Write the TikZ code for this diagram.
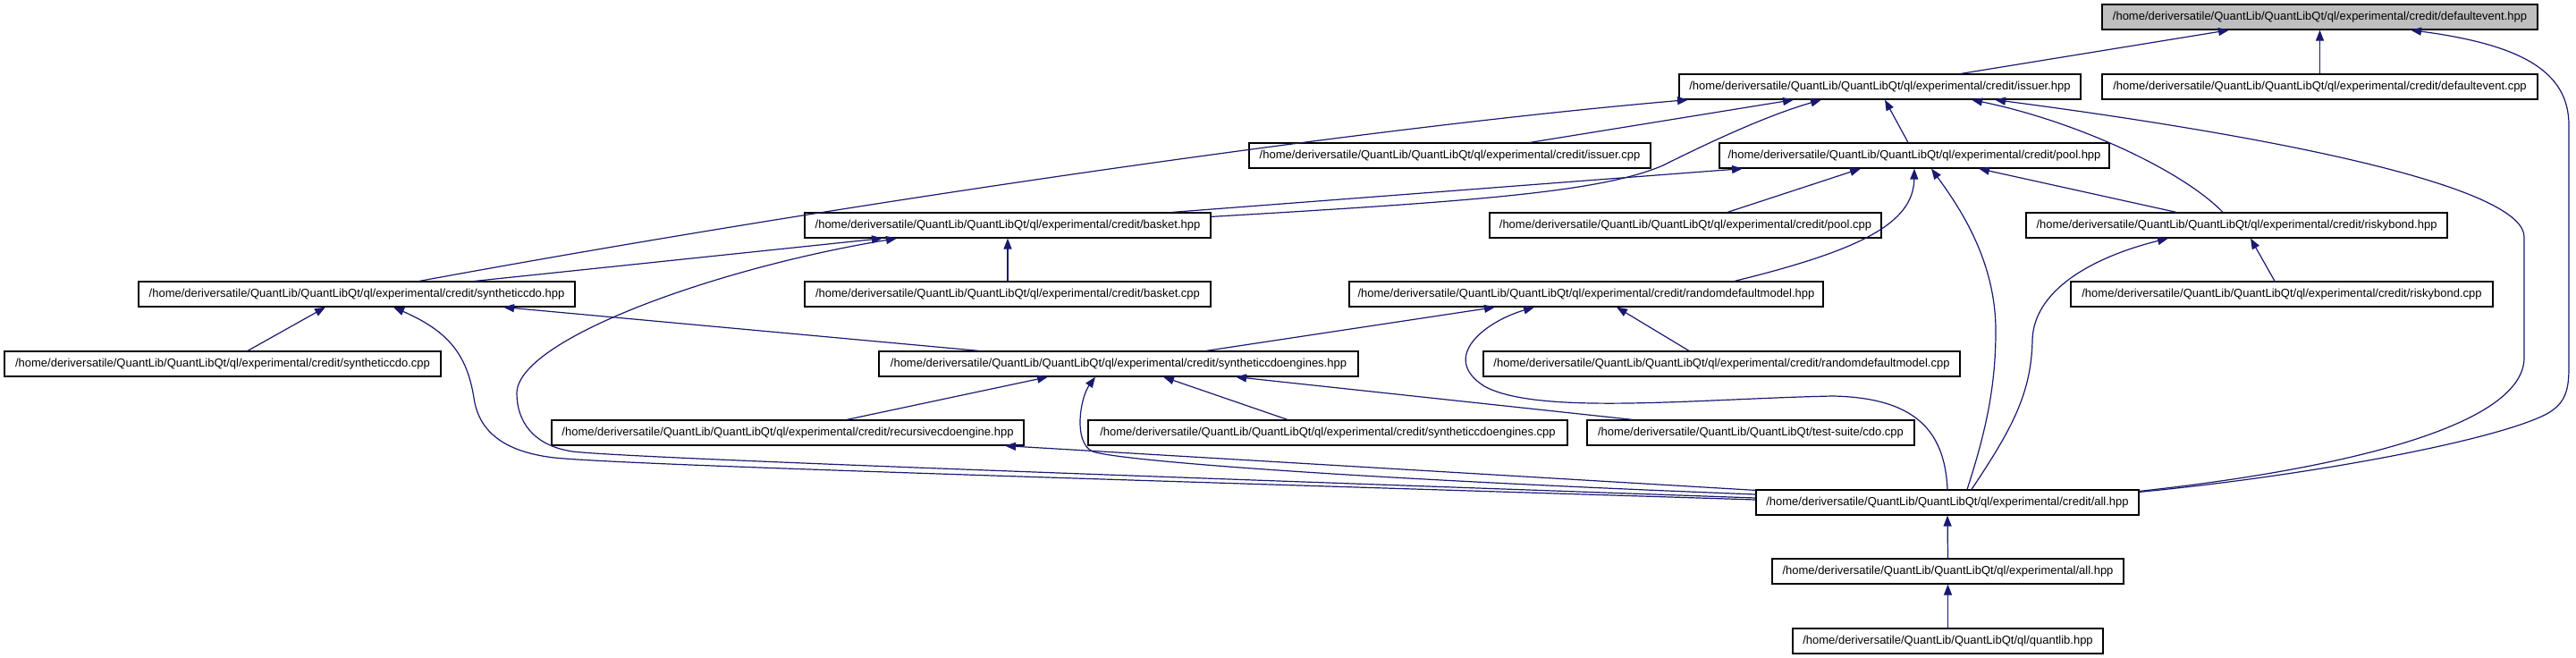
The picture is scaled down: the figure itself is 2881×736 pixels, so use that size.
\documentclass[tikz,border=0pt]{standalone}
\usepackage{fontspec}
\setmainfont{Liberation Sans}
\usetikzlibrary{arrows.meta}
\definecolor{edgeblue}{HTML}{191970}
\definecolor{nodegray}{HTML}{BFBFBF}
\begin{document}
\begin{tikzpicture}[x=1pt,y=-1pt,
  box/.style={draw=black, line width=1.2pt, minimum height=28pt, inner sep=0pt, font=\fontsize{13}{15}\selectfont, fill=white},
  edge/.style={draw=edgeblue, line width=1.2pt, -{Triangle[length=12pt,width=9pt]}}]
\useasboundingbox (0,0) rectangle (2881,736);
% nodes
\node[box, fill=nodegray, minimum width=487pt] (defevhpp) at (2594.5,19) {/home/deriversatile/QuantLib/QuantLibQt/ql/experimental/credit/defaultevent.hpp};
\node[box, minimum width=449pt] (issuerhpp) at (2102.5,97) {/home/deriversatile/QuantLib/QuantLibQt/ql/experimental/credit/issuer.hpp};
\node[box, minimum width=487pt] (defevcpp) at (2594.5,97) {/home/deriversatile/QuantLib/QuantLibQt/ql/experimental/credit/defaultevent.cpp};
\node[box, minimum width=449pt] (issuercpp) at (1621.5,174) {/home/deriversatile/QuantLib/QuantLibQt/ql/experimental/credit/issuer.cpp};
\node[box, minimum width=436pt] (poolhpp) at (2141,174) {/home/deriversatile/QuantLib/QuantLibQt/ql/experimental/credit/pool.hpp};
\node[box, minimum width=454pt] (baskethpp) at (1127,252) {/home/deriversatile/QuantLib/QuantLibQt/ql/experimental/credit/basket.hpp};
\node[box, minimum width=438pt] (poolcpp) at (1885,252) {/home/deriversatile/QuantLib/QuantLibQt/ql/experimental/credit/pool.cpp};
\node[box, minimum width=471pt] (riskyhpp) at (2501.5,252) {/home/deriversatile/QuantLib/QuantLibQt/ql/experimental/credit/riskybond.hpp};
\node[box, minimum width=488pt] (synhpp) at (399,329) {/home/deriversatile/QuantLib/QuantLibQt/ql/experimental/credit/syntheticcdo.hpp};
\node[box, minimum width=454pt] (basketcpp) at (1127,329) {/home/deriversatile/QuantLib/QuantLibQt/ql/experimental/credit/basket.cpp};
\node[box, minimum width=530pt] (rdmhpp) at (1774,329) {/home/deriversatile/QuantLib/QuantLibQt/ql/experimental/credit/randomdefaultmodel.hpp};
\node[box, minimum width=472pt] (riskycpp) at (2552,329) {/home/deriversatile/QuantLib/QuantLibQt/ql/experimental/credit/riskybond.cpp};
\node[box, minimum width=488pt] (syncpp) at (249,407) {/home/deriversatile/QuantLib/QuantLibQt/ql/experimental/credit/syntheticcdo.cpp};
\node[box, minimum width=536pt] (synenghpp) at (1251,407) {/home/deriversatile/QuantLib/QuantLibQt/ql/experimental/credit/syntheticcdoengines.hpp};
\node[box, minimum width=533pt] (rdmcpp) at (1925.5,407) {/home/deriversatile/QuantLib/QuantLibQt/ql/experimental/credit/randomdefaultmodel.cpp};
\node[box, minimum width=528pt] (recurhpp) at (881,484) {/home/deriversatile/QuantLib/QuantLibQt/ql/experimental/credit/recursivecdoengine.hpp};
\node[box, minimum width=536pt] (synengcpp) at (1485,484) {/home/deriversatile/QuantLib/QuantLibQt/ql/experimental/credit/syntheticcdoengines.cpp};
\node[box, minimum width=366pt] (cdocpp) at (1958,484) {/home/deriversatile/QuantLib/QuantLibQt/test-suite/cdo.cpp};
\node[box, minimum width=428pt] (credall) at (2178,562) {/home/deriversatile/QuantLib/QuantLibQt/ql/experimental/credit/all.hpp};
\node[box, minimum width=393pt] (expall) at (2178.5,639) {/home/deriversatile/QuantLib/QuantLibQt/ql/experimental/all.hpp};
\node[box, minimum width=347pt] (quantlib) at (2178.5,717) {/home/deriversatile/QuantLib/QuantLibQt/ql/quantlib.hpp};
% edges
\draw[edge] ([xshift=90.5pt]issuerhpp.north) -- ([xshift=-101.5pt]defevhpp.south);
\draw[edge] (defevcpp.north) -- (defevhpp.south);
\draw[edge] ([yshift=-3pt]credall.north east) .. controls (2600,530) and (2800,490) .. (2850,462) .. controls (2870,450) and (2873,435) .. (2873,410) -- (2873,140) .. controls (2873,80) and (2820,50) .. ([xshift=101.5pt]defevhpp.south);
\draw[edge] ([xshift=89.5pt]issuercpp.north) -- ([xshift=-96.5pt]issuerhpp.south);
\draw[edge] ([xshift=70pt]synhpp.north) .. controls (900,235) and (1500,145) .. ([xshift=-214.5pt]issuerhpp.south);
\draw[edge] ([yshift=-5pt]baskethpp.north east) .. controls (1650,225) and (1790,215) .. (1860,185) .. controls (1920,155) and (1980,128) .. ([xshift=-65.5pt]issuerhpp.south);
\draw[edge] ([xshift=-7pt]poolhpp.north) -- ([xshift=5.5pt]issuerhpp.south);
\draw[edge] ([xshift=-15.5pt]riskyhpp.north) .. controls (2440,190) and (2320,135) .. ([xshift=102.5pt]issuerhpp.south);
\draw[edge] ([yshift=-2pt]credall.north east) .. controls (2600,527) and (2823,480) .. (2823,400) -- (2823,265) .. controls (2823,215) and (2600,160) .. ([xshift=128.5pt]issuerhpp.south);
\draw[edge] ([xshift=184pt]baskethpp.north) -- ([xshift=-192pt]poolhpp.south);
\draw[edge] ([xshift=47pt]poolcpp.north) -- ([xshift=-60pt]poolhpp.south);
\draw[edge] ([xshift=166pt]rdmhpp.north) .. controls (2080,280) and (2140,250) .. (poolhpp.south);
\draw[edge] ([xshift=22pt]credall.north) .. controls (2222,480) and (2232,430) .. (2232,370) .. controls (2232,290) and (2190,230) .. ([xshift=19pt]poolhpp.south);
\draw[edge] ([xshift=-67.5pt]riskyhpp.north) -- ([xshift=72pt]poolhpp.south);
\draw[edge] ([xshift=132pt]synhpp.north) -- ([xshift=-140pt]baskethpp.south);
\draw[edge] (basketcpp.north) -- (baskethpp.south);
\draw[edge] ([yshift=5pt]credall.west) .. controls (1200,530) and (700,512) .. (640,505) .. controls (595,498) and (578,470) .. (578,440) .. controls (578,380) and (800,300) .. ([xshift=-124pt]baskethpp.south);
\draw[edge] ([xshift=-8pt]riskycpp.north) -- ([xshift=15.5pt]riskyhpp.south);
\draw[edge] ([xshift=27pt]credall.north) .. controls (2250,480) and (2272,440) .. (2273,380) .. controls (2275,320) and (2350,285) .. ([xshift=-76.5pt]riskyhpp.south);
\draw[edge] ([xshift=28pt]syncpp.north) -- ([xshift=-35pt]synhpp.south);
\draw[edge] ([xshift=-156pt]synenghpp.north) -- ([xshift=164pt]synhpp.south);
\draw[edge] ([yshift=3pt]credall.west) .. controls (1200,535) and (700,520) .. (620,512) .. controls (560,505) and (535,480) .. (530,445) .. controls (522,395) and (500,370) .. ([xshift=41pt]synhpp.south);
\draw[edge] ([xshift=98pt]synenghpp.north) -- ([xshift=-102pt]rdmhpp.south);
\draw[edge] ([xshift=-36.5pt]rdmcpp.north) -- ([xshift=34pt]rdmhpp.south);
\draw[edge] (credall.north) .. controls (2175,480) and (2140,445) .. (2050,443) .. controls (1900,446) and (1720,465) .. (1660,432) .. controls (1610,400) and (1660,360) .. ([xshift=-58pt]rdmhpp.south);
\draw[edge] ([xshift=66pt]recurhpp.north) -- ([xshift=-79pt]synenghpp.south);
\draw[edge] ([xshift=-45pt]synengcpp.north) -- ([xshift=50pt]synenghpp.south);
\draw[edge] ([xshift=-132pt]cdocpp.north) -- ([xshift=131pt]synenghpp.south);
\draw[edge] ([yshift=9pt]credall.west) .. controls (1500,535) and (1250,515) .. (1222,505) .. controls (1200,495) and (1208,445) .. ([xshift=-26pt]synenghpp.south);
\draw[edge] ([yshift=-1pt]credall.north west) -- ([xshift=243pt]recurhpp.south);
\draw[edge] (expall.north) -- (credall.south);
\draw[edge] (quantlib.north) -- (expall.south);
\end{tikzpicture}
\end{document}
